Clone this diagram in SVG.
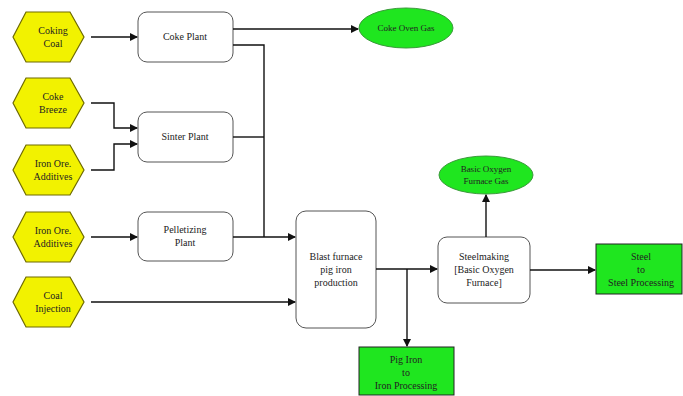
<svg xmlns="http://www.w3.org/2000/svg" width="683" height="396" viewBox="0 0 683 396">
<defs>
<marker id="ah" markerWidth="8" markerHeight="8" refX="7" refY="4" orient="auto" markerUnits="userSpaceOnUse">
<path d="M0,0 L8,4 L0,8 Z" fill="#111"/>
</marker>
<polygon id="hex" points="-26,-25 18,-25 32,0 18,25 -26,25 -39,0"/>
</defs>
<style>
.hex{fill:#f2f200;stroke:#6e6a00;stroke-width:1.2}
.box{fill:#fff;stroke:#555;stroke-width:1}
.gbox{fill:#1fe61f;stroke:#222;stroke-width:1}
.ell{fill:#1fe61f;stroke:#3a9a3a;stroke-width:1}
text{font-family:"Liberation Serif","Times New Roman",serif;font-size:10px;fill:#222;text-anchor:middle}
.sm{font-size:9px}
.c{fill:none;stroke:#111;stroke-width:1.4}
</style>
<rect width="683" height="396" fill="#fff"/>
<g id="coking-coal"><use href="#hex" class="hex" x="52" y="37"/><text x="53" y="34">Coking</text><text x="53" y="47">Coal</text></g>
<g id="coke-breeze"><use href="#hex" class="hex" x="52" y="103"/><text x="53" y="100">Coke</text><text x="53" y="113">Breeze</text></g>
<g id="iron-ore-1"><use href="#hex" class="hex" x="52" y="170"/><text x="53" y="167">Iron Ore.</text><text x="53" y="180">Additives</text></g>
<g id="iron-ore-2"><use href="#hex" class="hex" x="52" y="237"/><text x="53" y="234">Iron Ore.</text><text x="53" y="247">Additives</text></g>
<g id="coal-injection"><use href="#hex" class="hex" x="52" y="302"/><text x="53" y="299">Coal</text><text x="53" y="312">Injection</text></g>
<g id="coke-plant"><rect class="box" x="138" y="12" width="95" height="50" rx="9"/><text x="185" y="40">Coke Plant</text></g>
<g id="sinter-plant"><rect class="box" x="138" y="112" width="95" height="50" rx="9"/><text x="185" y="140">Sinter Plant</text></g>
<g id="pelletizing-plant"><rect class="box" x="138" y="212" width="95" height="49" rx="9"/><text x="185" y="233">Pelletizing</text><text x="185" y="246">Plant</text></g>
<g id="coke-oven-gas"><ellipse class="ell" cx="406" cy="28" rx="47" ry="20"/><text class="sm" x="406" y="31">Coke Oven Gas</text></g>
<g id="blast-furnace"><rect class="box" x="296" y="211" width="80" height="117" rx="10"/><text x="336" y="260">Blast furnace</text><text x="336" y="273">pig iron</text><text x="336" y="286">production</text></g>
<g id="steelmaking"><rect class="box" x="438" y="237" width="92" height="66" rx="9"/><text x="484" y="260">Steelmaking</text><text x="484" y="273">[Basic Oxygen</text><text x="484" y="286">Furnace]</text></g>
<g id="bof-gas"><ellipse class="ell" cx="486" cy="175" rx="47" ry="19"/><text class="sm" x="486" y="172">Basic Oxygen</text><text class="sm" x="486" y="184">Furnace Gas</text></g>
<g id="pig-iron"><rect class="gbox" x="359" y="347" width="95" height="48"/><text x="406" y="363">Pig Iron</text><text x="406" y="376">to</text><text x="406" y="389">Iron Processing</text></g>
<g id="steel"><rect class="gbox" x="596" y="244" width="86" height="50"/><text x="641" y="260">Steel</text><text x="641" y="273">to</text><text x="641" y="286">Steel Processing</text></g>
<g id="connectors">
<path class="c" d="M91,37 H137" marker-end="url(#ah)"/>
<path class="c" d="M91,103 H114 V128 H137" marker-end="url(#ah)"/>
<path class="c" d="M91,170 H114 V144 H137" marker-end="url(#ah)"/>
<path class="c" d="M91,237 H137" marker-end="url(#ah)"/>
<path class="c" d="M233,29 H358" marker-end="url(#ah)"/>
<path class="c" d="M233,45 H264 V237"/>
<path class="c" d="M233,137 H264"/>
<path class="c" d="M233,237 H295" marker-end="url(#ah)"/>
<path class="c" d="M91,302 H295" marker-end="url(#ah)"/>
<path class="c" d="M376,269 H437" marker-end="url(#ah)"/>
<path class="c" d="M407,269 V346" marker-end="url(#ah)"/>
<path class="c" d="M486,237 V195" marker-end="url(#ah)"/>
<path class="c" d="M530,270 H595" marker-end="url(#ah)"/>
</g>
</svg>
